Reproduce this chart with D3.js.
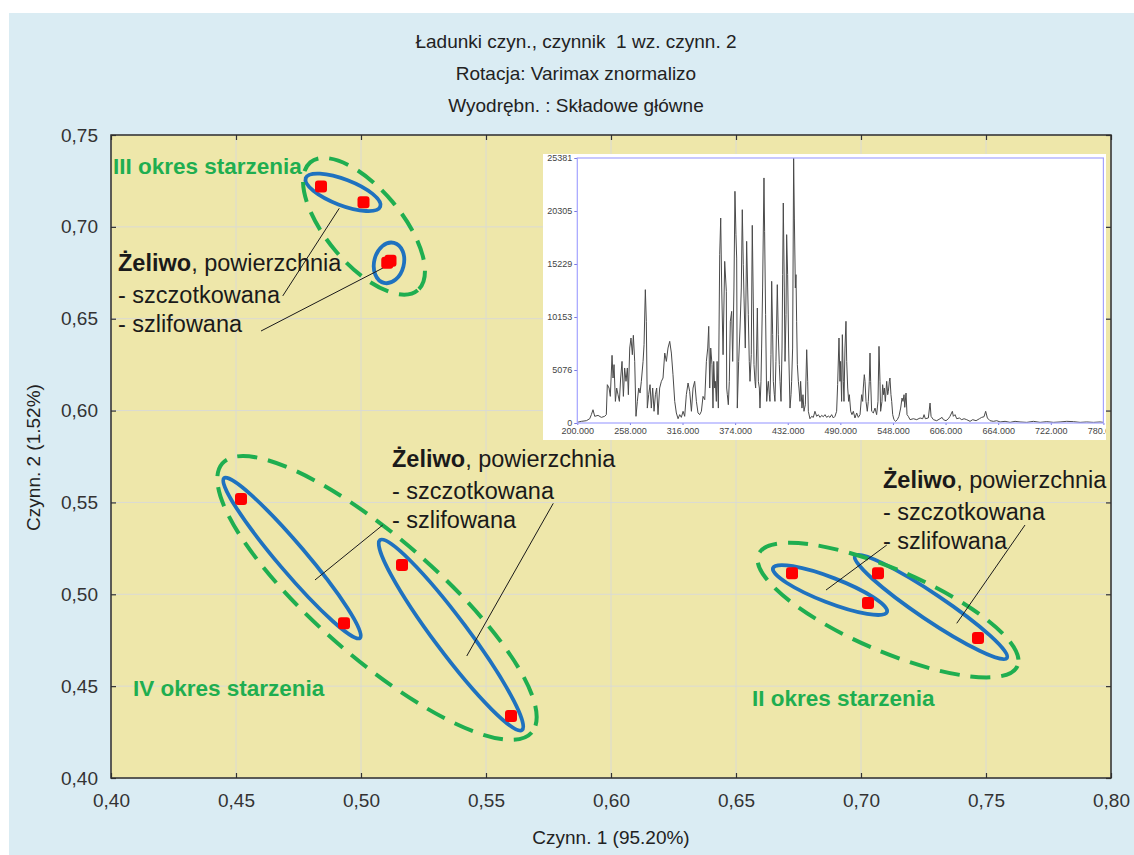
<!DOCTYPE html>
<html>
<head>
<meta charset="utf-8">
<script src="https://cdn.jsdelivr.net/npm/d3@7"></script>
<style>
  body { margin: 0; background: #fff; }
  svg { display: block; }
  text { font-family: "Liberation Sans", Arial, sans-serif; white-space: pre; }
</style>
</head>
<body>
<svg id="chart" width="1134" height="855"></svg>
<script>
// ---- chart text ----
const titleLines = ["Ładunki czyn., czynnik  1 wz. czynn. 2", "Rotacja: Varimax znormalizo", "Wyodrębn. : Składowe główne"];
const xAxisTitle = "Czynn. 1 (95.20%)";
const yAxisTitle = "Czynn. 2 (1.52%)";
const xTicks = [0.40, 0.45, 0.50, 0.55, 0.60, 0.65, 0.70, 0.75, 0.80];
const yTicks = [0.40, 0.45, 0.50, 0.55, 0.60, 0.65, 0.70, 0.75];

// ---- factor loadings (factor 1, factor 2) ----
const loadingF1 = [0.484, 0.501, 0.5105, 0.5118, 0.452, 0.4932, 0.5164, 0.560, 0.6724, 0.7028, 0.7068, 0.7468];
const loadingF2 = [0.722, 0.7134, 0.6804, 0.6815, 0.5518, 0.4843, 0.5159, 0.4337, 0.5115, 0.4952, 0.5115, 0.4762];

// ---- grouping ellipses: centre, end of major axis, minor/major ratio ----
const ellipseKind = ["surface", "surface", "period", "surface", "surface", "period", "surface", "surface", "period"];
const ellipseCx   = [0.4928, 0.5112, 0.5012, 0.4724, 0.5360, 0.5064, 0.6876, 0.7280, 0.7108];
const ellipseCy   = [0.7188, 0.6804, 0.7003, 0.5197, 0.4778, 0.4980, 0.5023, 0.4931, 0.4914];
const ellipseTipX = [0.5077, 0.5132, 0.5227, 0.4996, 0.5644, 0.5683, 0.7104, 0.7584, 0.7626];
const ellipseTipY = [0.7110, 0.6913, 0.6655, 0.4762, 0.4261, 0.4248, 0.4903, 0.4653, 0.4610];
const ellipseRatio = [0.325, 0.72, 0.45, 0.133, 0.143, 0.293, 0.205, 0.143, 0.29];

// ---- ageing period labels ----
const periodNames = ["III okres starzenia", "IV okres starzenia", "II okres starzenia"];
const periodX = [0.4008, 0.4088, 0.6564];
const periodY = [0.7288, 0.4446, 0.4392];

// ---- surface description blocks and leader lines ----
const noteBold = "Żeliwo";
const noteRest = ", powierzchnia";
const noteLines = ["- szczotkowana", "- szlifowana"];
const noteX = [0.4028, 0.5124, 0.7088];
const noteY = [0.6760, 0.5693, 0.5579];
const leaderX1 = [0.4687, 0.4600, 0.5087, 0.5769, 0.7103, 0.7656];
const leaderY1 = [0.6624, 0.6433, 0.5377, 0.5495, 0.5268, 0.5377];
const leaderX2 = [0.4913, 0.5129, 0.4816, 0.5423, 0.6860, 0.7383];
const leaderY2 = [0.7101, 0.6805, 0.5078, 0.4664, 0.5023, 0.4842];

// ---- inset: emission spectrum ----
const spectrumXTicks = [200, 258, 316, 374, 432, 490, 548, 606, 664, 722, 780];
const spectrumYTicks = [0, 5076, 10153, 15229, 20305, 25381];
const spectrumNm = [
  200.0,204.5,210.0,213.7,215.5,217.3,219.2,222.9,226.5,230.2,
  232.0,233.1,235.0,236.4,238.3,239.4,240.5,242.0,243.4,244.9,
  246.4,247.8,249.3,250.8,252.2,253.7,255.2,256.3,257.8,259.2,
  260.7,261.8,263.3,264.7,266.2,267.7,269.2,270.6,272.5,273.6,
  275.0,276.1,277.2,278.7,280.2,281.6,283.1,284.6,286.1,287.5,
  289.0,290.8,292.7,294.5,296.4,298.2,300.0,301.9,303.7,305.5,
  307.4,309.2,311.1,312.9,314.7,316.6,318.4,320.2,322.1,323.9,
  325.8,327.6,329.4,331.3,333.1,334.9,336.8,338.6,340.5,342.3,
  343.8,344.9,346.0,347.1,348.5,349.6,350.4,351.5,352.2,353.3,
  354.1,355.5,357.0,358.1,359.2,360.7,362.5,364.3,
  364.7,365.4,366.5,367.6,368.7,370.2,371.3,372.7,373.8,374.9,
  375.7,376.4,377.9,379.4,380.8,381.9,383.0,383.8,385.2,386.7,
  387.8,388.5,389.6,390.4,391.8,392.9,394.1,394.8,395.9,396.6,
  397.7,398.5,399.6,400.7,401.4,402.5,403.2,404.3,405.8,406.5,
  407.6,408.8,409.8,410.6,411.7,412.4,413.5,414.3,415.4,416.1,
  417.2,417.9,419.0,420.5,421.6,422.7,423.5,424.6,425.7,426.4,
  427.1,428.2,429.0,430.1,430.8,431.9,433.0,434.5,435.6,436.3,
  437.4,438.5,439.3,440.4,441.1,441.8,442.6,443.7,444.4,445.5,
  446.2,447.7,448.8,449.9,451.4,452.9,454.0,454.7,456.5,458.4,
  460.2,462.0,463.9,465.7,467.6,469.4,471.2,473.1,474.9,476.7,
  478.6,480.4,482.3,484.1,485.9,487.0,488.5,489.6,490.3,491.4,
  492.2,493.3,494.0,495.1,496.2,497.0,498.1,499.2,499.9,501.4,
  502.8,504.3,506.1,508.0,509.8,511.7,513.5,514.6,515.3,516.4,
  517.2,518.3,519.7,520.8,521.9,522.7,523.4,524.5,526.4,528.2,
  530.0,531.5,532.6,533.7,534.4,535.9,536.6,537.7,538.5,539.6,
  541.1,542.2,542.9,544.0,544.7,545.8,546.6,547.7,549.1,551.0,
  552.8,554.6,556.5,558.0,559.1,560.2,561.0,562.4,563.5,564.9,
  566.8,570.5,574.2,577.9,580.8,582.3,583.7,587.0,588.9,590.0,
  592.6,596.2,599.9,602.1,603.6,606.5,609.1,610.9,613.5,614.6,
  616.4,618.3,621.2,623.8,626.4,629.3,633.0,635.9,639.6,643.3,
  645.8,648.4,650.2,652.1,655.0,658.7,662.4,666.1,671.6,677.1,
  682.6,688.1,695.5,702.8,710.2,717.5,724.9,732.2,739.6,746.9,
  754.3,761.6,769.0,776.3,780.0
];
const spectrumCounts = [
  60,160,220,410,800,1270,640,730,540,640,
  800,3670,3350,2550,6480,4310,5590,2070,3350,2710,
  2070,4310,5900,2550,5270,3990,5270,2710,7180,8140,
  6540,8400,5900,640,2070,3350,2870,3990,5900,7500,
  12770,9740,1430,2710,3670,1430,3350,1120,2710,3350,
  800,3350,3990,4310,6700,5900,7180,7820,6700,4630,
  2070,960,410,800,540,1120,640,2710,3830,3030,
  1120,3350,3990,2070,960,800,1120,2550,2230,5900,
  7180,9260,3350,7180,5590,1430,5900,3350,3990,2070,
  5900,1430,16120,19630,12930,6540,15480,12610,
  3350,2710,1750,3990,9740,10690,5900,12930,22190,18040,
  15800,1430,5900,9100,12930,20430,15160,11970,7180,17400,
  12930,10370,5900,3990,6540,18930,11010,5590,3990,3350,
  7180,11010,3990,3350,1430,3990,7180,12930,23470,18360,
  10370,2070,3350,3990,2710,2070,6540,13570,8460,3990,
  2710,2070,5900,13250,8460,5590,3990,2070,7180,14210,
  21070,12930,5900,10370,18040,14210,7180,1430,2710,3990,
  7180,25381,19630,12930,14210,9740,5590,3990,3350,2070,
  3990,1430,2710,1120,1750,7020,3990,1120,410,640,
  540,1120,640,800,540,730,600,800,540,670,
  540,800,480,640,1120,3670,8140,3990,5900,2070,
  8460,3990,2070,7180,9740,5900,3350,2070,2710,1120,
  800,1120,480,960,540,800,2710,2070,3350,4630,
  3990,2070,1120,2070,3990,6700,3990,1120,960,1430,
  800,2070,7340,3990,1120,2070,3670,2710,3350,2070,
  3990,2710,3030,3990,4310,2710,2070,800,320,160,
  320,640,1430,2390,2070,2710,1500,2870,800,640,
  320,410,320,480,410,800,410,480,1910,640,
  320,220,410,540,320,220,410,640,1120,640,
  800,410,480,320,410,320,160,320,220,410,
  540,600,1120,480,220,160,220,100,160,60,
  160,100,60,160,60,130,60,100,160,130,
  60,100,60,100,60
];

// ---- layout ----
const W = 1134, H = 855;
const plot = { left: 111, right: 1111, top: 135, bottom: 778 };
const inset = { left: 543, top: 154, right: 1106, bottom: 440, axisLeft: 577.3, axisRight: 1103.4, axisTop: 158, axisBottom: 423 };
const GREEN = "#1fae50", BLUE = "#1f72bf";

const svg = d3.select("#chart");
const fmtComma = d => d3.format(".2f")(d).replace(".", ",");

// page background
svg.append("rect").attr("width", W).attr("height", H).attr("fill", "#fff");
svg.append("rect").attr("x", 9).attr("y", 13).attr("width", W - 9).attr("height", H - 13).attr("fill", "#daecf3");

// titles
svg.append("g").selectAll("text").data(titleLines).join("text")
  .attr("x", 576).attr("y", (d, i) => 48 + i * 32)
  .attr("text-anchor", "middle").attr("font-size", 19).attr("fill", "#222")
  .text(d => d);

const x = d3.scaleLinear().domain([0.40, 0.80]).range([plot.left, plot.right]);
const y = d3.scaleLinear().domain([0.40, 0.75]).range([plot.bottom, plot.top]);

// plot area
svg.append("rect").attr("x", plot.left).attr("y", plot.top)
  .attr("width", plot.right - plot.left).attr("height", plot.bottom - plot.top)
  .attr("fill", "#eee7aa");

// grid
const grid = svg.append("g").attr("stroke", "#dadad4").attr("stroke-width", 1);
grid.selectAll(".gx").data(xTicks).join("line")
  .attr("x1", d => x(d)).attr("x2", d => x(d)).attr("y1", plot.top).attr("y2", plot.bottom);
grid.selectAll(".gy").data(yTicks).join("line")
  .attr("y1", d => y(d)).attr("y2", d => y(d)).attr("x1", plot.left).attr("x2", plot.right);

// axes with inward ticks
function styleAxis(g) {
  g.select(".domain").remove();
  g.selectAll(".tick line").attr("stroke", "#333").attr("stroke-width", 1.2);
  g.selectAll(".tick text").attr("fill", "#333").attr("font-size", 19)
    .attr("font-family", "'Liberation Sans', Arial, sans-serif");
}
svg.append("g").attr("transform", `translate(0,${plot.bottom})`)
  .call(d3.axisBottom(x).tickValues(xTicks).tickFormat(fmtComma).tickSizeInner(-5).tickSizeOuter(0).tickPadding(16))
  .call(styleAxis);
svg.append("g").attr("transform", `translate(${plot.left},0)`)
  .call(d3.axisLeft(y).tickValues(yTicks).tickFormat(fmtComma).tickSizeInner(-5).tickSizeOuter(0).tickPadding(13))
  .call(styleAxis);
svg.append("g").attr("transform", `translate(0,${plot.top})`)
  .call(d3.axisTop(x).tickValues(xTicks).tickFormat("").tickSizeInner(-5).tickSizeOuter(0))
  .call(styleAxis);
svg.append("g").attr("transform", `translate(${plot.right},0)`)
  .call(d3.axisRight(y).tickValues(yTicks).tickFormat("").tickSizeInner(-5).tickSizeOuter(0))
  .call(styleAxis);

// frame
svg.append("rect").attr("x", plot.left).attr("y", plot.top)
  .attr("width", plot.right - plot.left).attr("height", plot.bottom - plot.top)
  .attr("fill", "none").attr("stroke", "#2e2e2e").attr("stroke-width", 1.5);

// axis titles
svg.append("text").attr("x", (plot.left + plot.right) / 2).attr("y", 844)
  .attr("text-anchor", "middle").attr("font-size", 19).attr("fill", "#222").text(xAxisTitle);
svg.append("text").attr("transform", `translate(40,${(plot.top + plot.bottom) / 2 + 1}) rotate(-90)`)
  .attr("text-anchor", "middle").attr("font-size", 19).attr("fill", "#222").text(yAxisTitle);

// ---- inset spectrum ----
const ins = svg.append("g");
ins.append("clipPath").attr("id", "insetClip").append("rect")
  .attr("x", inset.left).attr("y", inset.top)
  .attr("width", inset.right - inset.left).attr("height", inset.bottom - inset.top);
const insG = ins.append("g").attr("clip-path", "url(#insetClip)");
insG.append("rect").attr("x", inset.left).attr("y", inset.top)
  .attr("width", inset.right - inset.left).attr("height", inset.bottom - inset.top).attr("fill", "#fff");

const sx = d3.scaleLinear().domain([200, 780]).range([inset.axisLeft, inset.axisRight]);
const sy = d3.scaleLinear().domain([0, 25381]).range([inset.axisBottom, inset.axisTop]);

function styleInsetAxis(g) {
  g.select(".domain").remove();
  g.selectAll(".tick line").attr("stroke", "#7777dd").attr("stroke-width", 1);
  g.selectAll(".tick text").attr("fill", "#444").attr("font-size", 9)
    .attr("font-family", "'Liberation Sans', Arial, sans-serif");
}
insG.append("g").attr("transform", `translate(0,${inset.axisBottom})`)
  .call(d3.axisBottom(sx).tickValues(spectrumXTicks).tickFormat(d3.format(".3f")).tickSizeInner(2).tickSizeOuter(0).tickPadding(3))
  .call(styleInsetAxis);
insG.append("g").attr("transform", `translate(${inset.axisLeft},0)`)
  .call(d3.axisLeft(sy).tickValues(spectrumYTicks).tickFormat(d3.format("d")).tickSizeInner(3).tickSizeOuter(0).tickPadding(2))
  .call(styleInsetAxis);

insG.append("path")
  .datum(d3.zip(spectrumNm, spectrumCounts))
  .attr("d", d3.line().x(d => sx(d[0])).y(d => sy(d[1])))
  .attr("fill", "none").attr("stroke", "#4a4a4a").attr("stroke-width", 1)
  .attr("stroke-linejoin", "round");

insG.append("rect").attr("x", inset.axisLeft).attr("y", inset.axisTop)
  .attr("width", inset.axisRight - inset.axisLeft).attr("height", inset.axisBottom - inset.axisTop)
  .attr("fill", "none").attr("stroke", "#a3a3ff").attr("stroke-width", 1.2);

// ---- ellipses ----
const ellipses = ellipseKind.map((k, i) => {
  const cx = x(ellipseCx[i]), cy = y(ellipseCy[i]);
  const tx = x(ellipseTipX[i]), ty = y(ellipseTipY[i]);
  const a = Math.hypot(tx - cx, ty - cy);
  return { kind: k, cx, cy, a, b: a * ellipseRatio[i], ang: Math.atan2(ty - cy, tx - cx) * 180 / Math.PI };
});
svg.append("g").selectAll("ellipse").data(ellipses).join("ellipse")
  .attr("cx", 0).attr("cy", 0)
  .attr("rx", d => d.a).attr("ry", d => d.b)
  .attr("transform", d => `translate(${d.cx},${d.cy}) rotate(${d.ang})`)
  .attr("fill", "none")
  .attr("stroke", d => d.kind === "period" ? GREEN : BLUE)
  .attr("stroke-width", d => d.kind === "period" ? 4 : 3.8)
  .attr("stroke-dasharray", d => d.kind === "period" ? "20 11" : null);

// ---- leader lines ----
svg.append("g").selectAll("line").data(leaderX1).join("line")
  .attr("x1", (d, i) => x(leaderX1[i])).attr("y1", (d, i) => y(leaderY1[i]))
  .attr("x2", (d, i) => x(leaderX2[i])).attr("y2", (d, i) => y(leaderY2[i]))
  .attr("stroke", "#1a1a1a").attr("stroke-width", 1);

// ---- points ----
const pts = d3.zip(loadingF1, loadingF2);
svg.append("g").selectAll("rect").data(pts).join("rect")
  .attr("x", d => x(d[0]) - 6).attr("y", d => y(d[1]) - 6)
  .attr("width", 12).attr("height", 12).attr("rx", 3)
  .attr("fill", "#ff0000");

// ---- period labels ----
svg.append("g").selectAll("text").data(periodNames).join("text")
  .attr("x", (d, i) => x(periodX[i])).attr("y", (d, i) => y(periodY[i]))
  .attr("font-size", 22.5).attr("font-weight", "bold").attr("fill", GREEN)
  .text(d => d);

// ---- surface notes ----
const notes = svg.append("g").selectAll("g").data(noteX).join("g")
  .attr("transform", (d, i) => `translate(${x(noteX[i])},${y(noteY[i])})`);
const head = notes.append("text").attr("font-size", 23.5).attr("fill", "#1a1a1a");
head.append("tspan").attr("font-weight", "bold").text(noteBold);
head.append("tspan").text(noteRest);
noteLines.forEach((t, j) => {
  notes.append("text").attr("y", j === 0 ? 32 : 61).attr("font-size", 23.5).attr("fill", "#1a1a1a").text(t);
});
</script>
</body>
</html>
